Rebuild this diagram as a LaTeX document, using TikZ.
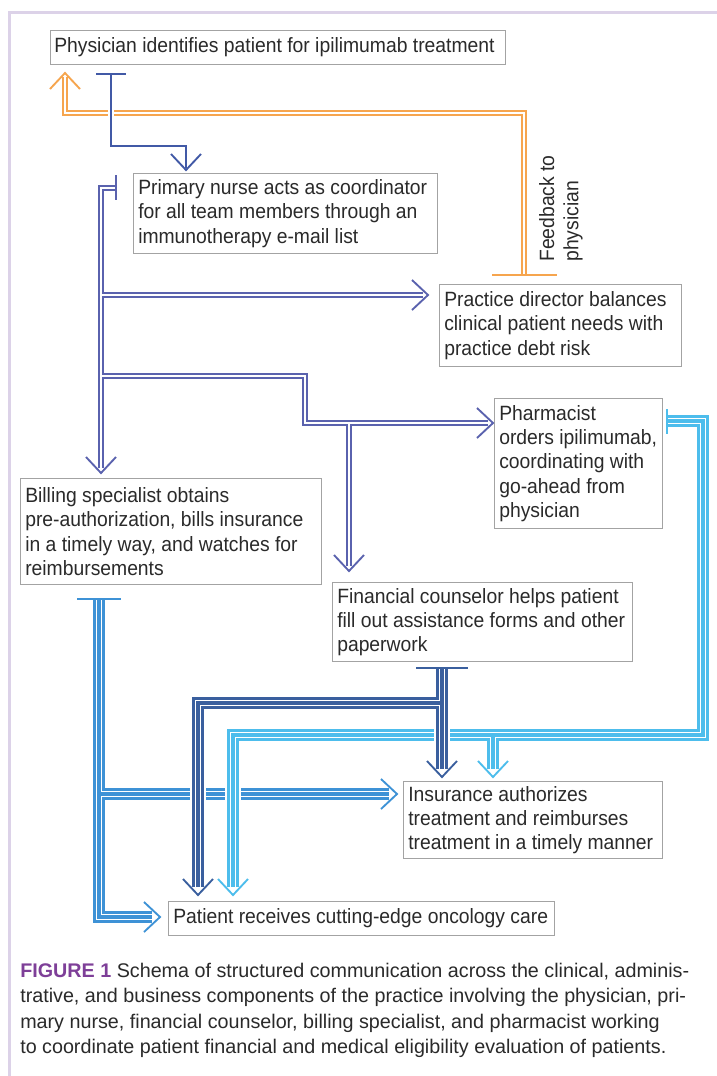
\documentclass[tikz,border=0pt]{standalone}
\usepackage{fontspec}
\setmainfont[FakeStretch=0.935]{Liberation Sans}
\newfontfamily\capfont{Liberation Sans}
\usetikzlibrary{calc}
\definecolor{corange}{HTML}{F6A54E}
\definecolor{cphy}{HTML}{4159A6}
\definecolor{cnur}{HTML}{5A62AE}
\definecolor{cbil}{HTML}{3E92D6}
\definecolor{cpha}{HTML}{4DBDEC}
\definecolor{cfin}{HTML}{3A5F9E}
\definecolor{cbox}{HTML}{A3A3A3}
\definecolor{ctext}{HTML}{2A2A2A}
\definecolor{cframe}{HTML}{DCD2E8}
\definecolor{cfig}{HTML}{7E3F98}
\begin{document}
\begin{tikzpicture}[x=0.75pt,y=-0.75pt,
  box/.style={draw=cbox, line width=0.9pt, inner sep=0pt, anchor=north west},
  txt/.style={anchor=west, inner sep=0pt, align=left, text=ctext, font=\fontsize{15.5}{18.15}\selectfont},
  halo/.style={preaction={draw=white, line width=#1}},
  sgl/.style={draw=#1, line width=1.6pt},
  dbl/.style={draw=#1, line width=4.6pt, postaction={draw=white, line width=1pt}},
  dblo/.style={draw=#1, line width=5.2pt, postaction={draw=white, line width=1.1pt}},
  trp/.style={draw=#1, line width=8.5pt, postaction={draw=white, line width=4.7pt}, postaction={draw=#1, line width=2.3pt}},
  tbar/.style={draw=#1, line width=1.7pt},
  chev/.pic={\draw[line width=1.4pt, pic actions] (-15,-16) -- (0,0) -- (15,-16);}
]
\fill[white] (0,0) rectangle (717,1076);
\useasboundingbox (0,0) rectangle (717,1076);
\draw[cframe, line width=2.2pt] (9.5,1076) -- (9.5,12.5) -- (717,12.5);

% boxes
\node[box, minimum width=341.25pt, minimum height=25.5pt] (phys) at (50,30) {};
\node[txt] (tphys) at ($(phys.west)+(4,0)$) {Physician identifies patient for ipilimumab treatment};
\node[box, minimum width=228pt, minimum height=60pt] (nurse) at (133,173) {};
\node[txt] (tnurse) at ($(nurse.west)+(5,0)$) {Primary nurse acts as coordinator\\for all team members through an\\immunotherapy e-mail list};
\node[box, minimum width=181.5pt, minimum height=61.5pt] (dir) at (439,284) {};
\node[txt] (tdir) at ($(dir.west)+(5,0)$) {Practice director balances\\clinical patient needs with\\practice debt risk};
\node[box, minimum width=126pt, minimum height=97.5pt] (pha) at (494,398) {};
\node[txt] (tpha) at ($(pha.west)+(5,0)$) {Pharmacist\\orders ipilimumab,\\coordinating with\\go-ahead from\\physician};
\node[box, minimum width=225.75pt, minimum height=79.5pt] (bil) at (20,478) {};
\node[txt] (tbil) at ($(bil.west)+(5,0)$) {Billing specialist obtains\\pre-authorization, bills insurance\\in a timely way, and watches for\\reimbursements};
\node[box, minimum width=225pt, minimum height=59.25pt] (fin) at (332,582) {};
\node[txt] (tfin) at ($(fin.west)+(5,0)$) {Financial counselor helps patient\\fill out assistance forms and other\\paperwork};
\node[box, minimum width=194.25pt, minimum height=57.75pt] (ins) at (403,781) {};
\node[txt] (tins) at ($(ins.west)+(5,0)$) {Insurance authorizes\\treatment and reimburses\\treatment in a timely manner};
\node[box, minimum width=289.5pt, minimum height=25.5pt] (pat) at (168,901) {};
\node[txt] (tpat) at ($(pat.west)+(5,0)$) {Patient receives cutting-edge oncology care};

% feedback label
\node[txt, rotate=90] (fb) at (561,262) {Feedback to\\physician};

% orange feedback connector
\coordinate (oT) at (524,275);
\coordinate (o1) at (524,113);
\coordinate (o2) at (65,113);
\coordinate (oTip) at (65,73);
\draw[dblo=corange] (oT) -- (o1) -- (o2) -- ($(oTip)+(0,4)$);
\draw[tbar=corange] ($(oT)+(-32,0)$) -- ($(oT)+(33,0)$);
\pic[draw=corange, rotate=180] at (oTip) {chev};

% physician -> nurse
\coordinate (a0) at (111,74);
\coordinate (a1) at (111,146);
\coordinate (a2) at (186,146);
\coordinate (aTip) at (186,170);
\draw[halo=4.8pt, sgl=cphy] (a0) -- (a1) -- (a2) -- ($(aTip)+(0,-2)$);
\draw[tbar=cphy] ($(a0)+(-15,0)$) -- ($(a0)+(15,0)$);
\pic[draw=cphy] at (aTip) {chev};

% nurse group
\coordinate (n0) at (116,188);
\coordinate (n1) at (101,188);
\coordinate (nTip1) at (101,473);
\coordinate (nb1) at (101,295);
\coordinate (nTip2) at (428,295);
\coordinate (nb2) at (101,376);
\coordinate (n3) at (305,376);
\coordinate (n4) at (305,423);
\coordinate (nTip3) at (493,423);
\coordinate (nb3) at (349,423);
\coordinate (nTip4) at (349,571);
\draw[dbl=cnur] (n0) -- (n1) -- ($(nTip1)+(0,-5)$)
  (nb1) -- ($(nTip2)+(-5,0)$)
  (nb2) -- (n3) -- (n4) -- ($(nTip3)+(-5,0)$)
  (nb3) -- ($(nTip4)+(0,-5)$);
\draw[tbar=cnur] ($(n0)+(0,-13)$) -- ($(n0)+(0,12)$);
\pic[draw=cnur] at (nTip1) {chev};
\pic[draw=cnur, rotate=90] at (nTip2) {chev};
\pic[draw=cnur, rotate=90] at (nTip3) {chev};
\pic[draw=cnur] at (nTip4) {chev};

% billing group
\coordinate (b0) at (99,599);
\coordinate (b1) at (99,917);
\coordinate (bTip1) at (160,917);
\coordinate (bb) at (99,794);
\coordinate (bTip2) at (397,794);
\draw[halo=11.5pt, trp=cbil] (b0) -- (b1) -- ($(bTip1)+(-8,0)$)
  (bb) -- ($(bTip2)+(-8,0)$);
\draw[tbar=cbil] ($(b0)+(-22,0)$) -- ($(b0)+(22,0)$);
\pic[draw=cbil, rotate=90] at (bTip1) {chev};
\pic[draw=cbil, rotate=90] at (bTip2) {chev};

% pharmacist group
\coordinate (p0) at (667,421);
\coordinate (p1) at (703,421);
\coordinate (p2) at (703,735);
\coordinate (p3) at (233,735);
\coordinate (pTip1) at (233,895);
\coordinate (pb) at (493,735);
\coordinate (pTip2) at (493,777);
\draw[halo=11.5pt, trp=cpha] (p0) -- (p1) -- (p2) -- (p3) -- ($(pTip1)+(0,-8)$)
  (pb) -- ($(pTip2)+(0,-8)$);
\draw[tbar=cpha] ($(p0)+(0,-12)$) -- ($(p0)+(0,13)$);
\pic[draw=cpha] at (pTip1) {chev};
\pic[draw=cpha] at (pTip2) {chev};

% financial counselor group
\coordinate (f0) at (442,668);
\coordinate (fTip1) at (442,777);
\coordinate (fb) at (442,703);
\coordinate (f2) at (198,703);
\coordinate (fTip2) at (198,895);
\draw[halo=11.5pt, trp=cfin] (f0) -- ($(fTip1)+(0,-8)$)
  (fb) -- (f2) -- ($(fTip2)+(0,-8)$);
\draw[tbar=cfin] ($(f0)+(-26,0)$) -- ($(f0)+(26,0)$);
\pic[draw=cfin] at (fTip1) {chev};
\pic[draw=cfin] at (fTip2) {chev};

% caption
\node[anchor=north west, inner sep=0pt, align=left, text=ctext,
  font=\capfont\fontsize{14.8}{19}\selectfont] (cap) at (20,963)
  {{\color{cfig}\bfseries FIGURE 1} Schema of structured communication across the clinical, adminis-\\
   trative, and business components of the practice involving the physician, pri-\\
   mary nurse, financial counselor, billing specialist, and pharmacist working\\
   to coordinate patient financial and medical eligibility evaluation of patients.};
\end{tikzpicture}
\end{document}
